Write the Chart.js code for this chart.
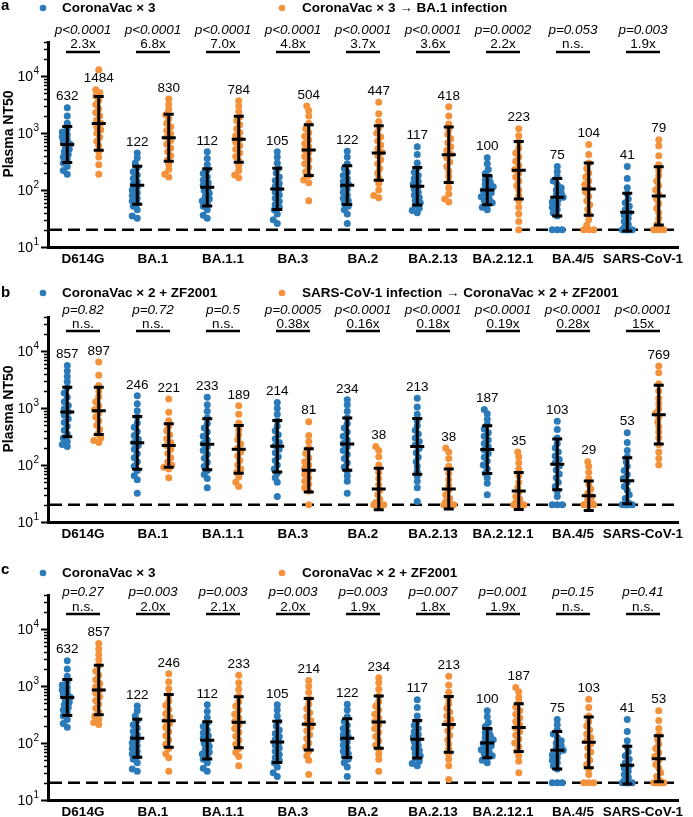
<!DOCTYPE html>
<html>
<head>
<meta charset="utf-8">
<script src="https://cdn.jsdelivr.net/npm/chart.js@4.4.0/dist/chart.umd.min.js"></script>
<style>
  html, body { margin: 0; padding: 0; background: #fff; overflow: hidden; }
  .panel { position: absolute; left: 0; width: 693px; }
</style>
</head>
<body>
<div class="panel" style="top:0;height:275px"><canvas id="panelA"></canvas></div>
<div class="panel" style="top:275px;height:275px"><canvas id="panelB"></canvas></div>
<div class="panel" style="top:553px;height:264px"><canvas id="panelC"></canvas></div>
<script>
const categories = ['D614G', 'BA.1', 'BA.1.1', 'BA.3', 'BA.2', 'BA.2.13', 'BA.2.12.1', 'BA.4/5', 'SARS-CoV-1'];

// geometric mean NT50 printed above each group
const gmCoronaVac3 = [632, 122, 112, 105, 122, 117, 100, 75, 41];
const gmBA1Infection = [1484, 830, 784, 504, 447, 418, 223, 104, 79];
const gmZF2001 = [857, 246, 233, 214, 234, 213, 187, 103, 53];
const gmSARS1ZF2001 = [897, 221, 189, 81, 38, 38, 35, 29, 769];

// individual plasma NT50 values (estimated from the dots), one list per variant
const dotsCoronaVac3 = [
  [190, 220, 260, 300, 340, 380, 420, 470, 520, 580, 640, 700, 780, 860, 950, 1050, 1200, 1500, 2000, 2800],
  [32, 35, 45, 52, 58, 64, 72, 80, 90, 100, 112, 125, 140, 160, 185, 210, 250, 300, 370, 450],
  [32, 36, 45, 52, 58, 64, 70, 78, 88, 98, 110, 122, 135, 150, 170, 195, 225, 280, 360, 470],
  [26, 30, 38, 45, 50, 56, 63, 72, 82, 92, 104, 116, 130, 148, 170, 200, 240, 300, 380, 470],
  [26, 38, 45, 52, 58, 65, 72, 82, 92, 104, 116, 128, 142, 160, 180, 205, 240, 290, 380, 480],
  [40, 44, 48, 54, 60, 66, 74, 82, 92, 104, 116, 128, 142, 160, 180, 205, 240, 300, 420, 580],
  [45, 50, 55, 60, 65, 70, 76, 83, 90, 98, 106, 115, 125, 138, 152, 170, 195, 230, 290, 370],
  [20, 20, 20, 35, 40, 45, 50, 56, 62, 68, 75, 82, 90, 100, 110, 125, 145, 170, 210, 260],
  [20, 20, 20, 20, 20, 20, 20, 22, 25, 28, 32, 36, 40, 45, 52, 60, 70, 85, 110, 160, 260]
];
const dotsBA1Infection = [
  [190, 280, 380, 480, 600, 720, 850, 1000, 1150, 1300, 1500, 1700, 2000, 2300, 2700, 3200, 3800, 4500, 5200, 5800, 13000],
  [170, 190, 230, 280, 340, 400, 470, 550, 640, 740, 850, 980, 1120, 1300, 1500, 1800, 2100, 2600, 3200, 4000],
  [165, 185, 220, 270, 330, 390, 450, 520, 600, 690, 790, 900, 1030, 1200, 1400, 1650, 1950, 2400, 3000, 3700],
  [65, 135, 150, 180, 210, 250, 290, 340, 390, 450, 510, 580, 660, 760, 880, 1020, 1200, 1500, 2000, 2500, 3000],
  [73, 80, 100, 130, 165, 200, 240, 290, 340, 400, 460, 530, 620, 730, 860, 1000, 1250, 1600, 2200, 3500],
  [62, 70, 85, 110, 140, 175, 215, 260, 310, 370, 430, 500, 580, 680, 800, 950, 1150, 1450, 2000, 2900],
  [20, 28, 38, 50, 65, 80, 100, 120, 145, 170, 200, 230, 270, 320, 380, 450, 550, 700, 900, 1200],
  [20, 20, 20, 24, 30, 38, 46, 55, 65, 78, 92, 108, 125, 145, 170, 200, 240, 300, 420, 630],
  [20, 20, 20, 20, 22, 26, 32, 40, 48, 58, 70, 84, 100, 120, 145, 180, 220, 280, 400, 600, 770]
];
const dotsZF2001 = [
  [213, 230, 260, 300, 350, 410, 480, 560, 650, 750, 860, 980, 1120, 1300, 1550, 1850, 2300, 2900, 3600, 4500, 5600],
  [32, 55, 65, 80, 95, 115, 135, 160, 190, 220, 250, 285, 330, 390, 460, 550, 700, 900, 1200, 1650],
  [40, 58, 68, 80, 95, 112, 132, 155, 180, 210, 240, 275, 320, 380, 450, 540, 680, 880, 1150, 1550],
  [28, 50, 60, 72, 85, 100, 120, 140, 165, 190, 220, 250, 290, 340, 400, 480, 600, 780, 1000, 1260],
  [32, 52, 64, 78, 93, 110, 130, 155, 180, 210, 240, 275, 320, 380, 450, 540, 680, 880, 1150, 1400],
  [23, 40, 52, 64, 78, 95, 115, 138, 165, 195, 225, 260, 300, 350, 410, 490, 600, 780, 1050, 1500],
  [30, 48, 60, 72, 86, 100, 118, 138, 160, 185, 210, 240, 275, 320, 370, 430, 520, 640, 800, 950],
  [20, 20, 20, 28, 35, 42, 50, 60, 70, 82, 96, 110, 125, 145, 170, 200, 240, 300, 420, 590],
  [20, 20, 20, 20, 20, 20, 22, 26, 30, 36, 42, 50, 58, 68, 80, 95, 115, 140, 180, 250, 370]
];
const dotsSARS1ZF2001 = [
  [250, 270, 300, 350, 420, 500, 600, 700, 820, 950, 1100, 1300, 1600, 2000, 2500, 3800, 6500],
  [60, 85, 92, 100, 115, 135, 160, 190, 220, 250, 290, 340, 400, 480, 600, 850, 1450],
  [42, 50, 62, 75, 85, 100, 120, 145, 170, 200, 235, 280, 340, 420, 550, 780, 1100],
  [20, 35, 40, 46, 52, 60, 68, 78, 88, 100, 115, 135, 160, 200, 260, 330, 580],
  [20, 20, 20, 20, 20, 20, 20, 22, 25, 30, 36, 45, 58, 75, 100, 140, 180, 213],
  [20, 20, 20, 20, 20, 20, 20, 23, 26, 30, 36, 44, 55, 72, 95, 130, 170, 200],
  [20, 20, 20, 20, 20, 20, 20, 22, 25, 28, 33, 40, 50, 65, 85, 110, 140, 170],
  [20, 20, 20, 20, 20, 20, 20, 20, 22, 25, 28, 32, 38, 46, 58, 75, 95, 115],
  [100, 130, 170, 230, 300, 380, 470, 570, 690, 820, 980, 1200, 1500, 2000, 2700, 4200, 5500]
];

const pValuesA = ['p<0.0001', 'p<0.0001', 'p<0.0001', 'p<0.0001', 'p<0.0001', 'p<0.0001', 'p=0.0002', 'p=0.053', 'p=0.003'];
const foldA = ['2.3x', '6.8x', '7.0x', '4.8x', '3.7x', '3.6x', '2.2x', 'n.s.', '1.9x'];
const pValuesB = ['p=0.82', 'p=0.72', 'p=0.5', 'p=0.0005', 'p<0.0001', 'p<0.0001', 'p<0.0001', 'p<0.0001', 'p<0.0001'];
const foldB = ['n.s.', 'n.s.', 'n.s.', '0.38x', '0.16x', '0.18x', '0.19x', '0.28x', '15x'];
const pValuesC = ['p=0.27', 'p=0.003', 'p=0.003', 'p=0.003', 'p=0.003', 'p=0.007', 'p=0.001', 'p=0.15', 'p=0.41'];
const foldC = ['n.s.', '2.0x', '2.1x', '2.0x', '1.9x', '1.8x', '1.9x', 'n.s.', 'n.s.'];

const LOD = 20;
const BLUE = '#2b7bba';
const ORANGE = '#f3923a';
const FONT = '"Liberation Sans", Arial, sans-serif';

const PX_PER_CAT = 70;    // layout constants used for the swarm spread
const PX_PER_DECADE = 56.7;

// simple beeswarm: returns pixel offsets for each value
function swarm(values) {
  const order = values.map((v, i) => ({ i, y: Math.log10(v) * PX_PER_DECADE }))
    .sort((a, b) => a.y - b.y);
  const placed = [];
  const offs = new Array(values.length).fill(0);
  order.forEach(p => {
    let best = 0, bestD = -1;
    for (let k = 0; k <= 12; k++) {
      const off = (k % 2 ? -1 : 1) * Math.ceil(k / 2);
      let dmin = Infinity;
      placed.forEach(q => {
        const d = Math.hypot(q.x - off, q.y - p.y);
        if (d < dmin) dmin = d;
      });
      if (dmin >= 4.8) { best = off; bestD = dmin; break; }
      if (dmin > bestD) { bestD = dmin; best = off; }
    }
    placed.push({ x: best, y: p.y });
    offs[p.i] = best;
  });
  return offs;
}

function buildPoints(groups, side) {
  const pts = [];
  groups.forEach((vals, i) => {
    const offs = swarm(vals);
    vals.forEach((v, j) => pts.push({ x: i + side * 0.225 + offs[j] / PX_PER_CAT, y: v }));
  });
  return pts;
}

function logSD(vals) {
  const l = vals.map(v => Math.log10(v));
  const m = l.reduce((a, b) => a + b, 0) / l.length;
  return Math.sqrt(l.reduce((a, b) => a + (b - m) * (b - m), 0) / (l.length - 1));
}

function decor(cfg) {
  return {
    id: 'decor' + cfg.letter,
    beforeDatasetsDraw(chart) {
      const { ctx, chartArea: ca, scales: { y } } = chart;
      ctx.save();
      // detection limit
      ctx.strokeStyle = '#000';
      ctx.lineWidth = 2.5;
      ctx.setLineDash([12, 6]);
      ctx.beginPath();
      const yl = y.getPixelForValue(LOD);
      ctx.moveTo(ca.left + 2, yl);
      ctx.lineTo(ca.right, yl);
      ctx.stroke();
      ctx.setLineDash([]);
      // log ticks
      for (let e = 1; e <= 4; e++) {
        for (let m = 1; m <= 9; m++) {
          const v = m * Math.pow(10, e);
          if (v > y.max) break;
          const py = Math.round(y.getPixelForValue(v)) + 0.5;
          ctx.lineWidth = m === 1 ? 2 : 1.5;
          ctx.beginPath();
          ctx.moveTo(ca.left - (m === 1 ? 7 : 4), py);
          ctx.lineTo(ca.left, py);
          ctx.stroke();
        }
        const py = y.getPixelForValue(Math.pow(10, e));
        ctx.fillStyle = '#000';
        ctx.textBaseline = 'middle';
        ctx.textAlign = 'right';
        ctx.font = '14px ' + FONT;
        ctx.fillText('10', 33, py + 1);
        ctx.textAlign = 'left';
        ctx.font = '10px ' + FONT;
        ctx.fillText(String(e), 33.5, py - 5);
      }
      ctx.restore();
    },
    afterDatasetsDraw(chart) {
      const { ctx, scales: { x, y } } = chart;
      ctx.save();
      ctx.fillStyle = '#000';
      ctx.strokeStyle = '#000';
      // error bars: geometric mean x/÷ geometric SD
      cfg.groups.forEach((g, s) => {
        const side = s ? 1 : -1;
        g.dots.forEach((vals, i) => {
          const gm = g.gm[i];
          const sd = logSD(vals);
          const px = x.getPixelForValue(i + side * 0.225);
          const top = y.getPixelForValue(gm * Math.pow(10, sd));
          const bot = y.getPixelForValue(gm / Math.pow(10, sd));
          const mid = y.getPixelForValue(gm);
          ctx.lineWidth = 3;
          ctx.beginPath();
          ctx.moveTo(px, top); ctx.lineTo(px, bot);
          ctx.moveTo(px - 5, top); ctx.lineTo(px + 5, top);
          ctx.moveTo(px - 5, bot); ctx.lineTo(px + 5, bot);
          ctx.moveTo(px - 7, mid); ctx.lineTo(px + 7, mid);
          ctx.stroke();
          // GM label above the highest dot (skip a lone outlier)
          const sorted = vals.slice().sort((a, b) => b - a);
          let topPx = y.getPixelForValue(sorted[0]);
          const nextPx = y.getPixelForValue(sorted[1]);
          if (nextPx - topPx > 18) topPx = nextPx;
          ctx.font = '13.5px ' + FONT;
          ctx.textAlign = 'center';
          ctx.textBaseline = 'middle';
          ctx.fillText(String(gm), px, topPx - 11);
        });
      });
      // p values, fold changes and brackets
      categories.forEach((c, i) => {
        const cx = x.getPixelForValue(i);
        ctx.textAlign = 'center';
        ctx.textBaseline = 'middle';
        ctx.font = 'italic 13.5px ' + FONT;
        ctx.fillText(cfg.p[i], cx, cfg.rows.p);
        ctx.font = '13.5px ' + FONT;
        ctx.fillText(cfg.fold[i], cx, cfg.rows.fold);
        ctx.lineWidth = 2.5;
        ctx.beginPath();
        ctx.moveTo(cx - 17, cfg.rows.line);
        ctx.lineTo(cx + 17, cfg.rows.line);
        ctx.stroke();
      });
      // legend
      const legendX = [[43, 62], [282, 302]];
      cfg.groups.forEach((g, s) => {
        ctx.fillStyle = g.color;
        ctx.beginPath();
        ctx.arc(legendX[s][0], cfg.rows.legend, 3.3, 0, Math.PI * 2);
        ctx.fill();
        ctx.fillStyle = '#000';
        ctx.font = 'bold 13.5px ' + FONT;
        ctx.textAlign = 'left';
        ctx.textBaseline = 'middle';
        ctx.fillText(g.name, legendX[s][1], cfg.rows.legend);
      });
      // panel letter
      ctx.font = 'bold 15px ' + FONT;
      ctx.fillText(cfg.letter, 1, cfg.rows.letter);
      // y title
      if (cfg.yTitle) {
        ctx.translate(9, 134);
        ctx.rotate(-Math.PI / 2);
        ctx.textAlign = 'center';
        ctx.font = 'bold 14px ' + FONT;
        ctx.fillText('Plasma NT50', 0, 0);
      }
      ctx.restore();
    }
  };
}

function makePanel(id, cfg) {
  const canvas = document.getElementById(id);
  const h = canvas.parentNode.clientHeight;
  new Chart(canvas, {
    type: 'scatter',
    data: {
      datasets: cfg.groups.map((g, s) => ({
        label: g.name,
        data: buildPoints(g.dots, s ? 1 : -1),
        backgroundColor: g.color,
        pointRadius: 3.5,
        pointHoverRadius: 3.5,
        pointBorderWidth: 0
      }))
    },
    options: {
      responsive: true,
      maintainAspectRatio: false,
      animation: false,
      layout: { padding: { top: 42, right: 15, left: 0, bottom: 0 } },
      plugins: { legend: { display: false }, tooltip: { enabled: false } },
      scales: {
        x: {
          type: 'linear', min: -0.5, max: 8.5,
          afterBuildTicks: s => { s.ticks = categories.map((c, i) => ({ value: i })); },
          afterFit: s => { s.height = h - 247; },
          ticks: {
            callback: v => categories[v],
            autoSkip: false, maxRotation: 0, padding: 4, color: '#000',
            font: { family: FONT, size: 13.5, weight: 'bold' }
          },
          grid: { display: false, drawTicks: false },
          border: { display: true, width: 3, color: '#000' }
        },
        y: {
          type: 'logarithmic', min: 10, max: 40000,
          afterFit: s => { s.width = 48; },
          ticks: { display: false },
          grid: { display: false, drawTicks: false },
          border: { display: true, width: 3, color: '#000' }
        }
      }
    },
    plugins: [decor(cfg)]
  });
}

makePanel('panelA', {
  letter: 'a', yTitle: true, p: pValuesA, fold: foldA,
  rows: { letter: 6, legend: 8, p: 30, fold: 44, line: 52 },
  groups: [
    { name: 'CoronaVac × 3', color: BLUE, gm: gmCoronaVac3, dots: dotsCoronaVac3 },
    { name: 'CoronaVac × 3 → BA.1 infection', color: ORANGE, gm: gmBA1Infection, dots: dotsBA1Infection }
  ]
});
makePanel('panelB', {
  letter: 'b', yTitle: true, p: pValuesB, fold: foldB,
  rows: { letter: 18, legend: 18, p: 35, fold: 49, line: 56 },
  groups: [
    { name: 'CoronaVac × 2 + ZF2001', color: BLUE, gm: gmZF2001, dots: dotsZF2001 },
    { name: 'SARS-CoV-1 infection → CoronaVac × 2 + ZF2001', color: ORANGE, gm: gmSARS1ZF2001, dots: dotsSARS1ZF2001 }
  ]
});
makePanel('panelC', {
  letter: 'c', yTitle: false, p: pValuesC, fold: foldC,
  rows: { letter: 17, legend: 20, p: 39, fold: 54, line: 61 },
  groups: [
    { name: 'CoronaVac × 3', color: BLUE, gm: gmCoronaVac3, dots: dotsCoronaVac3 },
    { name: 'CoronaVac × 2 + ZF2001', color: ORANGE, gm: gmZF2001, dots: dotsZF2001 }
  ]
});
</script>
</body>
</html>
